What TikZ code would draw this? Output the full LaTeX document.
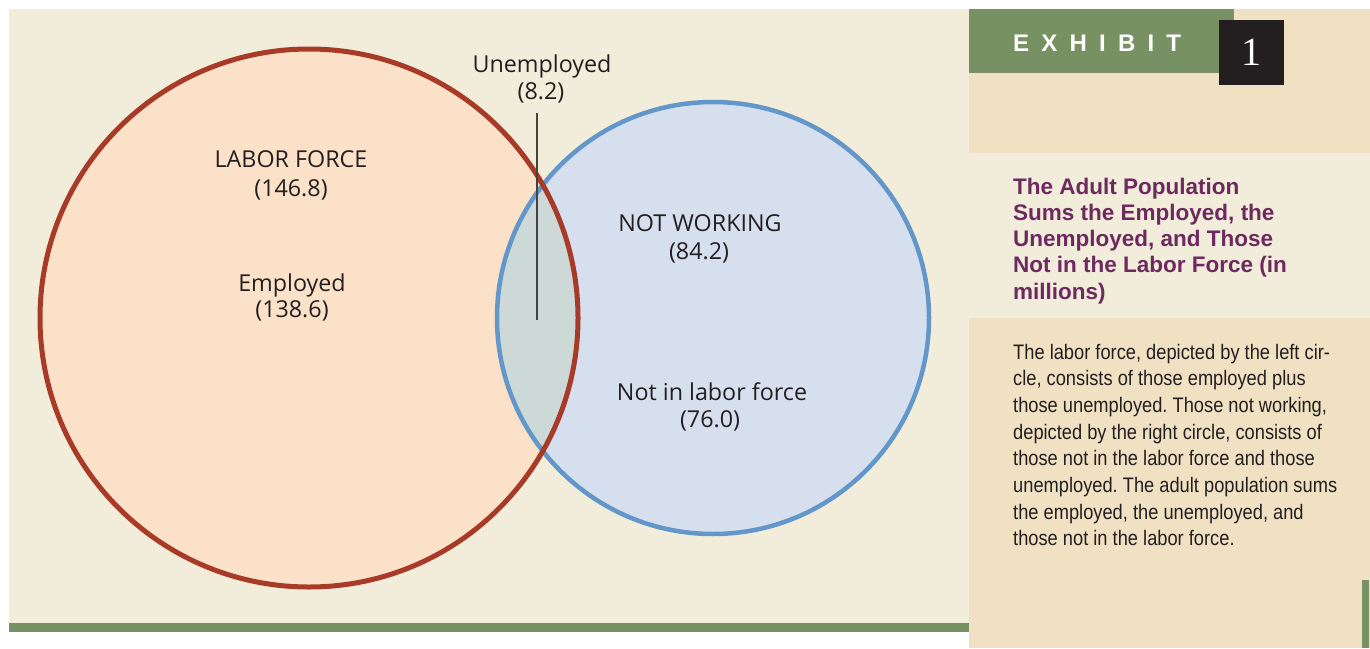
\documentclass[tikz,border=0pt]{standalone}
\usepackage{fontspec}
\setmainfont{Liberation Sans}
\newfontfamily\lblfont{Open Sans}
\newfontfamily\bodyfont[FakeStretch=0.87]{Liberation Sans}
\newfontfamily\numfont{Liberation Serif}
\definecolor{cream}{HTML}{F1EDDA}
\definecolor{tan}{HTML}{F1E1C3}
\definecolor{exgreen}{HTML}{789163}
\definecolor{boxblack}{HTML}{231F20}
\definecolor{lfred}{HTML}{A83A28}
\definecolor{nwblue}{HTML}{6497C9}
\definecolor{peach}{HTML}{FAE1C8}
\definecolor{lblue}{HTML}{D6DFEE}
\definecolor{overlap}{HTML}{CCD9D7}
\definecolor{titlepurple}{HTML}{6E2A5F}
\definecolor{ink}{HTML}{231F20}
\tikzset{
  lbl/.style={font={\lblfont\fontsize{23.3}{27}\selectfont}, text=ink, anchor=base, inner sep=0pt},
  ttl/.style={font={\bfseries\fontsize{22.5}{26}\selectfont}, text=titlepurple, anchor=base west, inner sep=0pt},
  bdy/.style={font={\bodyfont\fontsize{21}{26.7}\selectfont}, text=ink, anchor=base west, inner sep=0pt},
  ring/.style={circle, inner sep=0pt}
}
\begin{document}
\frenchspacing
\begin{tikzpicture}[x=1pt,y=-1pt]
\useasboundingbox (0,0) rectangle (1370,648);
\fill[white] (0,0) rectangle (1370,648);
% left panel
\fill[cream] (9,9) rectangle (969,623);
\fill[exgreen] (9,623) rectangle (969,632);
% right panel
\fill[tan] (969,9) rectangle (1370,648);
\fill[cream] (969,153) rectangle (1370,318);
\fill[exgreen] (969,9) rectangle (1234,73);
\fill[exgreen] (1362,580) rectangle (1369,648);
\node[fill=boxblack, minimum width=65pt, minimum height=65pt, inner sep=0pt] (numbox) at (1251.5,52.5) {};
\node[text=white, font={\numfont\fontsize{40}{40}\selectfont}, anchor=base, inner sep=0pt] (num) at (1251,65) {1};
\node[text=white, font={\bfseries\fontsize{24}{24}\selectfont}, anchor=base west, inner sep=0pt] (exh) at (1013,51)
  {E\kern12.2pt X\kern12.2pt H\kern12.2pt I\kern12.2pt B\kern12.2pt I\kern12.2pt T};
% circles
\fill[peach] (309,318) circle[radius=269pt];
\fill[lblue] (713,318) circle[radius=216pt];
\begin{scope}
  \clip (309,318) circle[radius=269pt];
  \fill[overlap] (713,318) circle[radius=216pt];
\end{scope}
\node[ring, draw=nwblue, line width=4.5pt, minimum size=432pt] (nw) at (713,318) {};
\node[ring, draw=lfred, line width=5pt, minimum size=538pt] (lf) at (309,318) {};
% labels
\node[lbl] (un) at (542,72) {Unemployed};
\node[lbl] (unv) at (541,99) {(8.2)};
\node[lbl] (lab) at (291,167) {LABOR FORCE};
\node[lbl] (labv) at (291,196) {(146.8)};
\node[lbl] (emp) at (292,291) {Employed};
\node[lbl] (empv) at (292,317) {(138.6)};
\node[lbl] (nwk) at (700,231) {NOT WORKING};
\node[lbl] (nwkv) at (699,259) {(84.2)};
\node[lbl] (nlf) at (712,400) {Not in labor force};
\node[lbl] (nlfv) at (710,427) {(76.0)};
% pointer line
\coordinate (ptop) at (537,113);
\coordinate (pbot) at (537,320);
\draw[line width=1.3pt, draw=ink!85] (ptop) -- (pbot);
% title
\foreach \t [count=\i] in {{The Adult Population},{Sums the Employed, the},{Unemployed, and Those},{Not in the Labor Force (in},{millions)}}
  \node[ttl] (t\i) at (1013,{194+26.3*(\i-1)}) {\t};
% body
\foreach \t [count=\i] in {{The labor force, depicted by the left cir-},{cle, consists of those employed plus},{those unemployed. Those not working,},{depicted by the right circle, consists of},{those not in the labor force and those},{unemployed. The adult population sums},{the employed, the unemployed, and},{those not in the labor force.}}
  \node[bdy] (b\i) at (1013,{359+26.7*(\i-1)}) {\t};
\end{tikzpicture}
\end{document}
